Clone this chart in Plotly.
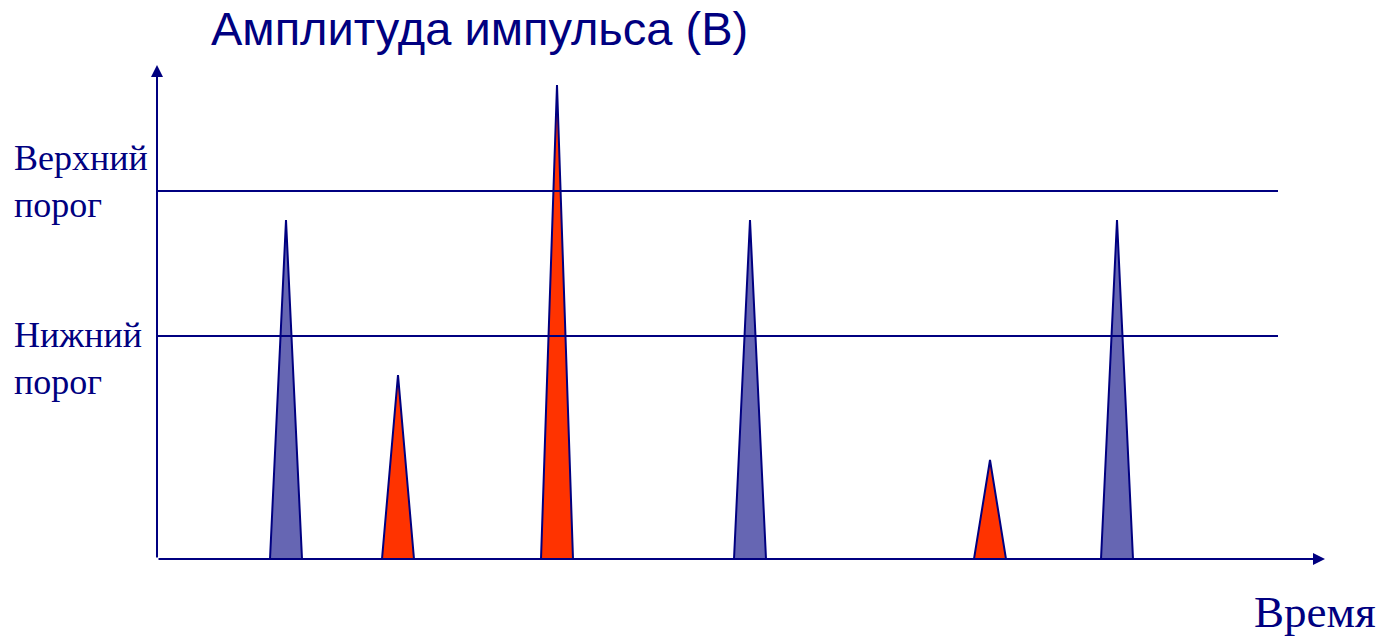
import plotly.graph_objects as go

# Pulse train: centre time, amplitude, and whether the pulse is rejected
pulse_time = [12.9, 24.1, 40.0, 59.3, 83.3, 96.0]
pulse_amp = [33.9, 18.4, 47.4, 33.9, 9.9, 33.9]
pulse_rejected = [False, True, True, False, True, False]
pulse_half_width = 1.6

# Discriminator thresholds
upper_threshold = 36.8
lower_threshold = 22.3

t_max = 116.8
v_max = 49.4
threshold_end = 112.1

NAVY = "#000080"
BLUE_FILL = "#6666B3"
RED_FILL = "#FF3300"

fig = go.Figure()

for t, a, rej in zip(pulse_time, pulse_amp, pulse_rejected):
    fig.add_trace(go.Scatter(
        x=[t - pulse_half_width, t, t + pulse_half_width, t - pulse_half_width],
        y=[0, a, 0, 0],
        mode="lines",
        fill="toself",
        fillcolor=RED_FILL if rej else BLUE_FILL,
        line=dict(color=NAVY, width=2),
        hoverinfo="skip",
        showlegend=False,
    ))

for level in (upper_threshold, lower_threshold):
    fig.add_trace(go.Scatter(
        x=[0, threshold_end], y=[level, level],
        mode="lines",
        line=dict(color=NAVY, width=2),
        hoverinfo="skip",
        showlegend=False,
    ))

serif = "Liberation Serif, Times New Roman, serif"
annotations = [
    # axes with arrowheads
    dict(x=t_max, y=0, ax=0, ay=0, xref="x", yref="y", axref="x", ayref="y",
         showarrow=True, arrowhead=2, arrowsize=1.2, arrowwidth=2, arrowcolor=NAVY, text=""),
    dict(x=0, y=v_max, ax=0, ay=0, xref="x", yref="y", axref="x", ayref="y",
         showarrow=True, arrowhead=2, arrowsize=1.2, arrowwidth=2, arrowcolor=NAVY, text=""),
    # titles and labels
    dict(x=0.2761, y=1.074, xref="paper", yref="paper", text="Амплитуда импульса (В)",
         showarrow=False, xanchor="center", yanchor="middle",
         font=dict(family="Liberation Sans, Arial, sans-serif", size=47, color=NAVY)),
    dict(x=-0.1245, y=0.765, xref="paper", yref="paper", text="Верхний<br>порог",
         showarrow=False, xanchor="left", yanchor="middle", align="left",
         font=dict(family=serif, size=36, color=NAVY)),
    dict(x=-0.1245, y=0.405, xref="paper", yref="paper", text="Нижний<br>порог",
         showarrow=False, xanchor="left", yanchor="middle", align="left",
         font=dict(family=serif, size=36, color=NAVY)),
    dict(x=0.9914, y=-0.108, xref="paper", yref="paper", text="Время",
         showarrow=False, xanchor="center", yanchor="middle",
         font=dict(family=serif, size=45, color=NAVY)),
]

fig.update_layout(
    width=1382, height=639,
    margin=dict(l=157, r=57, t=65, b=80),
    paper_bgcolor="white", plot_bgcolor="white",
    xaxis=dict(range=[0, t_max], visible=False, fixedrange=True),
    yaxis=dict(range=[0, v_max], visible=False, fixedrange=True),
    annotations=annotations,
    showlegend=False,
)

fig.write_html("out.html")
